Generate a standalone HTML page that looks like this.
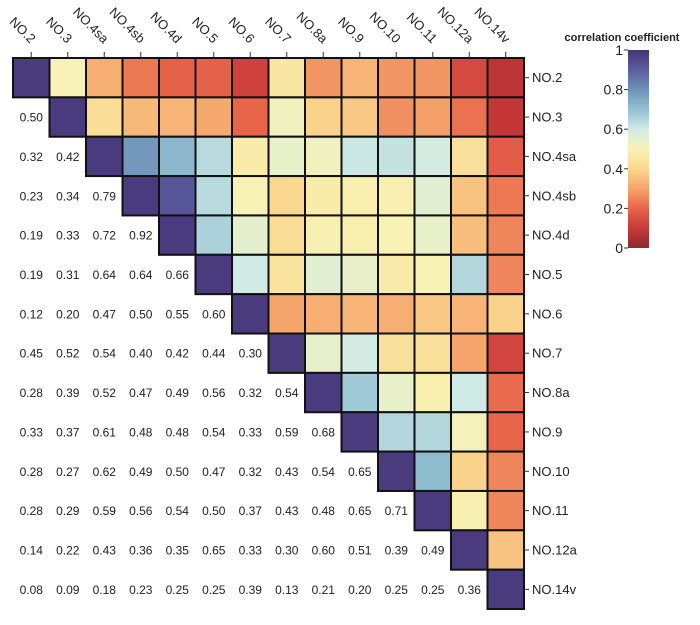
<!DOCTYPE html>
<html><head><meta charset="utf-8"><style>
body{margin:0;background:#fff}
svg{font-family:"Liberation Sans",Arial,sans-serif}
</style></head><body>
<svg id="c" width="700" height="620"></svg>
<script>
const labels=["NO.2","NO.3","NO.4sa","NO.4sb","NO.4d","NO.5","NO.6","NO.7","NO.8a","NO.9","NO.10","NO.11","NO.12a","NO.14v"];
const lowerRows=[
[],
[0.50],
[0.32,0.42],
[0.23,0.34,0.79],
[0.19,0.33,0.72,0.92],
[0.19,0.31,0.64,0.64,0.66],
[0.12,0.20,0.47,0.50,0.55,0.60],
[0.45,0.52,0.54,0.40,0.42,0.44,0.30],
[0.28,0.39,0.52,0.47,0.49,0.56,0.32,0.54],
[0.33,0.37,0.61,0.48,0.48,0.54,0.33,0.59,0.68],
[0.28,0.27,0.62,0.49,0.50,0.47,0.32,0.43,0.54,0.65],
[0.28,0.29,0.59,0.56,0.54,0.50,0.37,0.43,0.48,0.65,0.71],
[0.14,0.22,0.43,0.36,0.35,0.65,0.33,0.30,0.60,0.51,0.39,0.49],
[0.08,0.09,0.18,0.23,0.25,0.25,0.39,0.13,0.21,0.20,0.25,0.25,0.36]];
const cbTicks=[0,0.2,0.4,0.6,0.8,1];
const stops=["#8b2a2a","#c9383a","#e8654a","#f5a46b","#fad88f","#f8f3b5","#d0ebe6","#93c0d2","#6f93b8","#5a5ea0","#45357a"];
const NS="http://www.w3.org/2000/svg",svg=document.getElementById('c');
const x0=13,y0=58,cw=36.5,ch=39.36,n=labels.length;
const X=j=>x0+j*cw, Y=i=>y0+i*ch;
function hex(h){return [1,3,5].map(k=>parseInt(h.substr(k,2),16));}
function color(v){v=Math.max(0,Math.min(1,v));const t=v*10,k=Math.min(9,Math.floor(t)),f=t-k;const a=hex(stops[k]),b=hex(stops[k+1]);return 'rgb('+a.map((c,i)=>Math.round(c+(b[i]-c)*f)).join(',')+')';}
function el(tag,attrs,name,txt){const e=document.createElementNS(NS,tag);for(const k in attrs)e.setAttribute(k,attrs[k]);


if(txt!==undefined)e.textContent=txt;svg.appendChild(e);return e;}
for(let i=0;i<n;i++){for(let j=0;j<n;j++){
 if(j>=i){const v=j===i?1:lowerRows[j][i];
  el('rect',{x:X(j),y:Y(i),width:cw,height:ch,fill:j===i?'#4a3a7e':color(v),stroke:'#111','stroke-width':2},'cell-'+labels[i]+'-'+labels[j]);
 }else{
  el('text',{x:X(j)+cw/2,y:Y(i)+ch/2+4.5,'text-anchor':'middle','font-size':12,fill:'#222'},'value-'+labels[i]+'-'+labels[j],lowerRows[i][j].toFixed(2));
 }}}
for(let j=0;j<n;j++){const cx=X(j)+cw/2;
 el('line',{x1:cx,y1:52,x2:cx,y2:58,stroke:'#333','stroke-width':1},'top-tick');
 el('text',{x:0,y:0,'text-anchor':'end','font-size':13,fill:'#222',transform:'translate('+(cx-1)+',44) rotate(45)'},'column-label',labels[j]);}
for(let i=0;i<n;i++){const cy=Y(i)+ch/2;
 el('line',{x1:X(n),y1:cy,x2:X(n)+5,y2:cy,stroke:'#333','stroke-width':1},'right-tick');
 el('text',{x:X(n)+8,y:cy+4.5,'font-size':13,fill:'#222'},'row-label',labels[i]);}
const cbx=628,cbw=21,cbt=50,cbb=248;
const g=el('defs',{},'colorbar-defs');
const lg=document.createElementNS(NS,'linearGradient');lg.setAttribute('id','cg');lg.setAttribute('x1','0');lg.setAttribute('y1','1');lg.setAttribute('x2','0');lg.setAttribute('y2','0');
stops.forEach((s,k)=>{const st=document.createElementNS(NS,'stop');st.setAttribute('offset',k/10);st.setAttribute('stop-color',s);lg.appendChild(st);});g.appendChild(lg);
el('rect',{x:cbx,y:cbt,width:cbw,height:cbb-cbt,fill:'url(#cg)'},'colorbar');
const CY=v=>cbb-v*(cbb-cbt);
cbTicks.forEach(v=>{el('line',{x1:cbx-4,y1:CY(v),x2:cbx,y2:CY(v),stroke:'#333'},'colorbar-tick');
 el('text',{x:cbx-5,y:CY(v)+5,'text-anchor':'end','font-size':14,fill:'#222'},'colorbar-tick-label',String(v));});
el('text',{x:622,y:41,'text-anchor':'middle','font-size':11,'font-weight':'bold',fill:'#222'},'colorbar-title','correlation coefficient');
</script>
</body></html>
